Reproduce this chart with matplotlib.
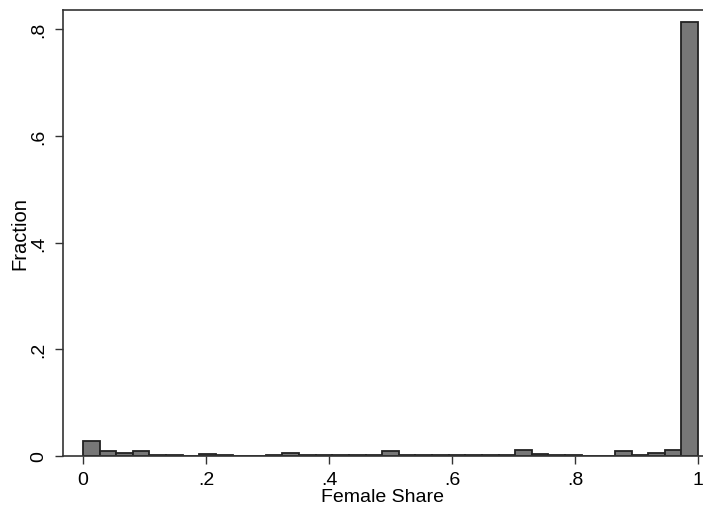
import matplotlib.pyplot as plt
import numpy as np

plt.rcParams['font.family'] = ['Liberation Sans', 'DejaVu Sans']

# 37 bins on [0, 1], fraction per bin
n_bins = 37
fractions = [0.029, 0.009, 0.006, 0.010, 0.001, 0.001, 0.000, 0.003, 0.001, 0.000,
             0.000, 0.001, 0.005, 0.001, 0.002, 0.001, 0.001, 0.001, 0.010, 0.001,
             0.001, 0.002, 0.001, 0.001, 0.001, 0.001, 0.012, 0.003, 0.001, 0.002,
             0.000, 0.000, 0.009, 0.001, 0.005, 0.012, 0.813]
x_ticks = [0, 0.2, 0.4, 0.6, 0.8, 1.0]
x_labels = ['0', '.2', '.4', '.6', '.8', '1']
y_ticks = [0, 0.2, 0.4, 0.6, 0.8]
y_labels = ['0', '.2', '.4', '.6', '.8']

edges = np.linspace(0, 1, n_bins + 1)
width = edges[1] - edges[0]

fig = plt.figure(figsize=(7.03, 5.06), dpi=100)
ax = fig.add_axes([0.0896, 0.0968, 0.9104, 0.8815])

ax.bar(edges[:-1], fractions, width=width, align='edge',
       color='#777777', edgecolor='#222222', linewidth=1.3)

ax.set_xlim(-0.0325, 1.008)
ax.set_ylim(0, 0.836)
ax.set_xticks(x_ticks)
ax.set_xticklabels(x_labels, fontsize=14)
ax.set_yticks(y_ticks)
ax.set_yticklabels(y_labels, fontsize=14, rotation=90, va='center')
ax.tick_params(direction='out', length=6, width=1, color='#333333', pad=5)
ax.set_xlabel('Female Share', fontsize=14, labelpad=0)
ax.set_ylabel('Fraction', fontsize=14.5, labelpad=1)

for s in ['left', 'bottom', 'top']:
    ax.spines[s].set_linewidth(1.2)
    ax.spines[s].set_color('#333333')
ax.spines['right'].set_visible(False)

fig.savefig('out.png', dpi=100)
